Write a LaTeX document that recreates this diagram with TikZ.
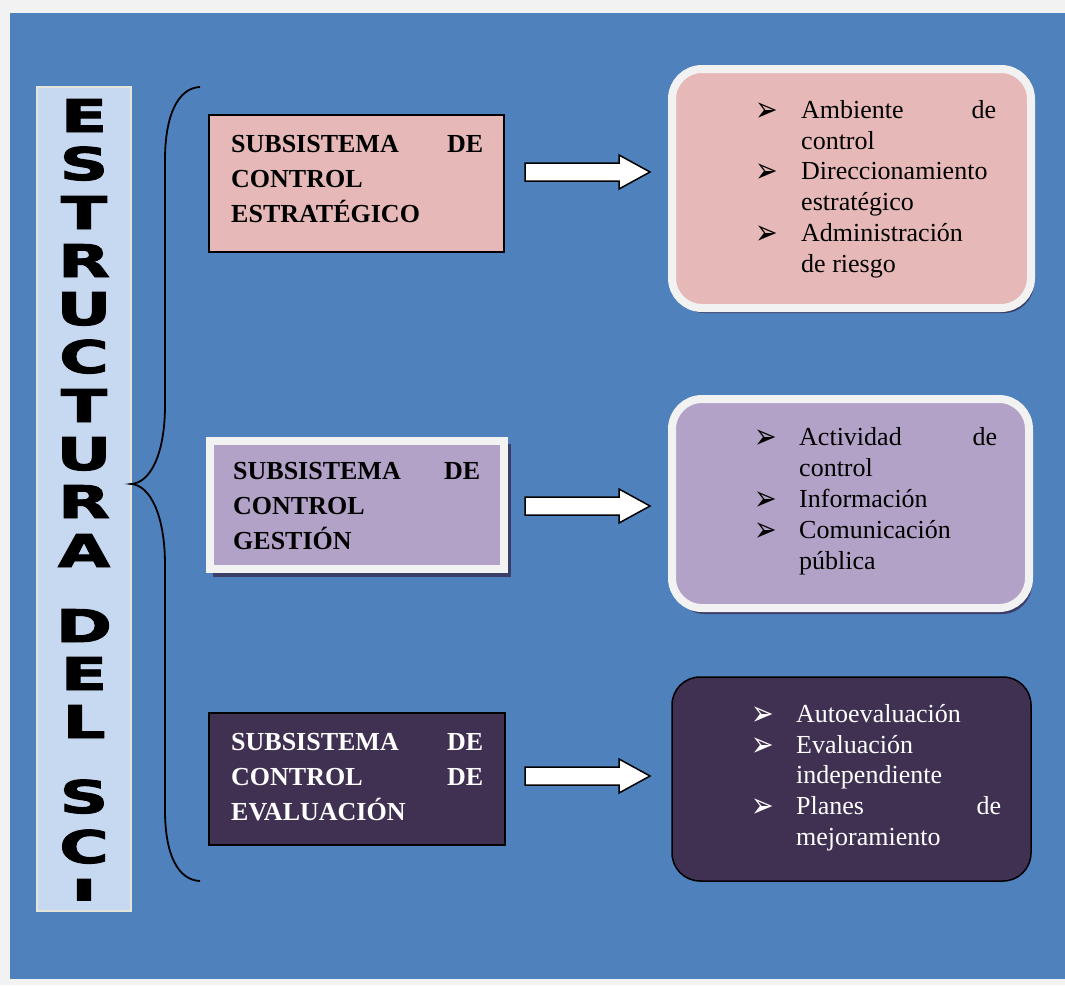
\documentclass[tikz,border=0pt]{standalone}
\usepackage{graphicx}
\usepackage{fontspec}
\setmainfont{Liberation Serif}
\newfontfamily\barfont{DejaVu Sans}[BoldFeatures={FakeBold=2}]
\newfontfamily\dingfont{DejaVu Sans}
\usetikzlibrary{calc}
\definecolor{bgblue}{RGB}{79,129,189}
\definecolor{pagegray}{RGB}{242,242,242}
\definecolor{barblue}{RGB}{198,217,241}
\definecolor{barline}{RGB}{228,228,218}
\definecolor{pinkf}{RGB}{230,185,184}
\definecolor{lilac}{RGB}{179,162,199}
\definecolor{darkp}{RGB}{64,49,82}
\definecolor{shadowc}{RGB}{58,62,105}
\newcommand{\arrowbul}{\smash{\raisebox{-3pt}{\scalebox{1}[1.3]{➢}}}}
\begin{document}
\begin{tikzpicture}[x=1pt,y=-1pt,
  letter/.style={anchor=base, inner sep=0pt, font=\barfont\bfseries\fontsize{45}{45}\selectfont},
  boldline/.style={anchor=base west, inner sep=0pt, font=\bfseries\fontsize{26}{26}\selectfont},
  itemline/.style={anchor=base west, inner sep=0pt, font=\fontsize{26}{26}\selectfont},
  bul/.style={anchor=base west, inner sep=0pt, text height=17pt, text depth=0pt, font=\dingfont\fontsize{27}{27}\selectfont},
  blockarrow/.style={fill=white, draw=black, line width=1.5pt, line join=miter},
  squarebox/.style={inner sep=0pt, outer sep=0pt},
  roundbox/.style={inner sep=0pt, outer sep=0pt, rounded corners=30pt},
]
% background
\fill[pagegray] (0,0) rectangle (1065,985);
\fill[bgblue] (10,13) rectangle (1065,979);
\useasboundingbox (0,0) rectangle (1065,985);

% vertical bar
\node[squarebox, draw=barline, line width=1.5pt, fill=barblue, minimum width=94pt, minimum height=824pt] (bar) at (84,499) {};
\begin{scope}
\clip (37,87) rectangle (131,900);
\node[letter] (l1) at (84,132) {\scalebox{1.5}[1]{E}};
\node[letter] (l2) at (84,180) {\scalebox{1.5}[1]{S}};
\node[letter] (l3) at (84,229) {\scalebox{1.5}[1]{T}};
\node[letter] (l4) at (84,277) {\scalebox{1.5}[1]{R}};
\node[letter] (l5) at (84,325) {\scalebox{1.5}[1]{U}};
\node[letter] (l6) at (84,373) {\scalebox{1.5}[1]{C}};
\node[letter] (l7) at (84,422) {\scalebox{1.5}[1]{T}};
\node[letter] (l8) at (84,470) {\scalebox{1.5}[1]{U}};
\node[letter] (l9) at (84,518) {\scalebox{1.5}[1]{R}};
\node[letter] (l10) at (84,567) {\scalebox{1.5}[1]{A}};
\node[letter] (l11) at (84,642) {\scalebox{1.5}[1]{D}};
\node[letter] (l12) at (84,690) {\scalebox{1.5}[1]{E}};
\node[letter] (l13) at (84,738) {\scalebox{1.5}[1]{L}};
\node[letter] (l14) at (84,813) {\scalebox{1.5}[1]{S}};
\node[letter] (l15) at (84,863) {\scalebox{1.5}[1]{C}};
\node[letter] (l16) at (84,912) {\scalebox{1.5}[1]{I}};
\end{scope}

% brace
\draw[line width=1.8pt] (200,87) .. controls (178,88) and (165,115) .. (165,160) -- (165,405)
  .. controls (165,455) and (150,483) .. (131,484)
  .. controls (150,485) and (165,515) .. (165,565) -- (165,810)
  .. controls (165,855) and (178,880) .. (200,881);

% subsystem boxes
\node[squarebox, draw=black, line width=1.5pt, fill=pinkf, minimum width=295pt, minimum height=137pt] (b1) at (356.5,183.5) {};
\node[boldline] (b1t1) at (231,152) {\hbox to 252pt{SUBSISTEMA\hfill DE}};
\node[boldline] (b1t2) at (231,187) {CONTROL};
\node[boldline] (b1t3) at (231,222) {ESTRATÉGICO};

\fill[shadowc] (213,444) rectangle (511,577);
\node[squarebox, draw=pagegray, line width=8pt, fill=lilac, minimum width=294pt, minimum height=128pt] (b2) at (357,504.5) {};
\node[boldline] (b2t1) at (233,479) {\hbox to 247pt{SUBSISTEMA\hfill DE}};
\node[boldline] (b2t2) at (233,514) {CONTROL};
\node[boldline] (b2t3) at (233,549) {GESTIÓN};

\node[squarebox, draw=black, line width=1.5pt, fill=darkp, minimum width=296pt, minimum height=132pt] (b3) at (357,779) {};
\node[boldline, text=white] (b3t1) at (231,750) {\hbox to 252pt{SUBSISTEMA\hfill DE}};
\node[boldline, text=white] (b3t2) at (231,785) {\hbox to 252pt{CONTROL\hfill DE}};
\node[boldline, text=white] (b3t3) at (231,820) {EVALUACIÓN};

% rounded boxes
\fill[shadowc, rounded corners=30pt] (675,74) rectangle (1034,313);
\node[roundbox, draw=pagegray, line width=8pt, fill=pinkf, minimum width=359pt, minimum height=239pt] (r1) at (851.5,188.5) {};
\node[bul] (r1b1) at (755,118) {\arrowbul};
\node[itemline] (r1t1) at (801,118) {\hbox to 195pt{Ambiente\hfill de}};
\node[itemline] (r1t2) at (801,149) {control};
\node[bul] (r1b2) at (755,179) {\arrowbul};
\node[itemline] (r1t3) at (801,179) {Direccionamiento};
\node[itemline] (r1t4) at (801,210) {estratégico};
\node[bul] (r1b3) at (755,241) {\arrowbul};
\node[itemline] (r1t5) at (801,241) {Administración};
\node[itemline] (r1t6) at (801,272) {de riesgo};

\fill[shadowc, rounded corners=30pt] (675,404) rectangle (1032,614);
\node[roundbox, draw=pagegray, line width=8pt, fill=lilac, minimum width=357pt, minimum height=209pt] (r2) at (850.5,503.5) {};
\node[bul] (r2b1) at (754,445) {\arrowbul};
\node[itemline] (r2t1) at (799,445) {\hbox to 198pt{Actividad\hfill de}};
\node[itemline] (r2t2) at (799,476) {control};
\node[bul] (r2b2) at (754,507) {\arrowbul};
\node[itemline] (r2t3) at (799,507) {Información};
\node[bul] (r2b3) at (754,538) {\arrowbul};
\node[itemline] (r2t4) at (799,538) {Comunicación};
\node[itemline] (r2t5) at (799,569) {pública};

\node[roundbox, rounded corners=28pt, draw=black, line width=1.5pt, fill=darkp, minimum width=359pt, minimum height=204pt] (r3) at (851.5,779) {};
\node[bul, text=white] (r3b1) at (751,722) {\arrowbul};
\node[itemline, text=white] (r3t1) at (796,722) {Autoevaluación};
\node[bul, text=white] (r3b2) at (751,753) {\arrowbul};
\node[itemline, text=white] (r3t2) at (796,753) {Evaluación};
\node[itemline, text=white] (r3t3) at (796,783) {independiente};
\node[bul, text=white] (r3b3) at (751,814) {\arrowbul};
\node[itemline, text=white] (r3t4) at (796,814) {\hbox to 205pt{Planes\hfill de}};
\node[itemline, text=white] (r3t5) at (796,845) {mejoramiento};

% block arrows
\coordinate (a1) at ($(b1.east)+(21,-11.5)$);
\coordinate (a2) at ($(b2.east)+(21,1.5)$);
\coordinate (a3) at ($(b3.east)+(20,-3)$);
\foreach \c in {a1,a2,a3}{
  \draw[blockarrow] (\c) +(0,-9) -- +(94,-9) -- +(94,-17) -- +(125,0) -- +(94,17) -- +(94,9) -- +(0,9) -- cycle;
}
\end{tikzpicture}
\end{document}
